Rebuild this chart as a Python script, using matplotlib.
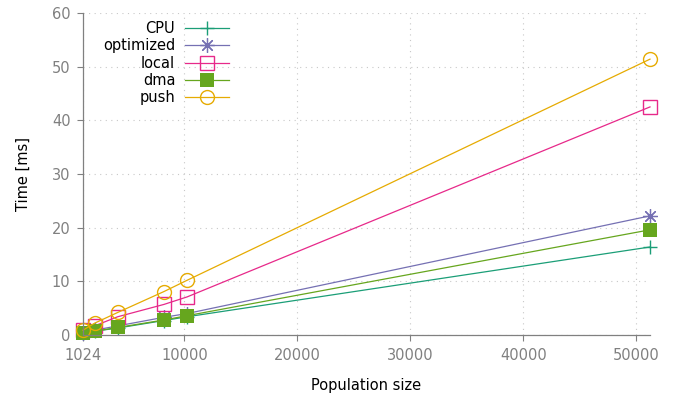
import numpy as np
import matplotlib.pyplot as plt

# data
sizes = [1024, 2048, 4096, 8192, 10240, 51200]
cpu = [0.3, 0.7, 1.3, 2.7, 3.4, 16.4]
optimized = [0.4, 0.9, 1.7, 3.3, 4.0, 22.2]
local = [1.0, 1.7, 3.4, 5.7, 7.1, 42.5]
dma = [0.4, 0.7, 1.4, 2.8, 3.6, 19.6]
push = [0.9, 2.2, 4.2, 8.1, 10.2, 51.4]

xticks = [1024, 10000, 20000, 30000, 40000, 50000]
yticks = [0, 10, 20, 30, 40, 50, 60]

plt.rcParams.update({
    "font.family": ["DejaVu Sans"],
    "font.size": 10.5,
})

gray = "#808080"
fig = plt.figure(figsize=(6.78, 3.94), dpi=100)
ax = fig.add_axes([83 / 678, 1 - 335 / 394, (650 - 83) / 678, (335 - 13) / 394])

series = [
    ("CPU", cpu, "#1b9e77", dict(marker="+", ms=10.5, mew=1.0)),
    ("optimized", optimized, "#7570b3", dict(marker=(8, 2, 0), ms=10.5, mew=0.9)),
    ("local", local, "#e7298a", dict(marker="s", ms=9.5, mfc="none", mew=1.0)),
    ("dma", dma, "#66a61e", dict(marker="s", ms=9.5, mew=0)),
    ("push", push, "#e6ab02", dict(marker="o", ms=10, mfc="none", mew=1.0)),
]
for name, vals, col, mk in series:
    ax.plot(sizes, vals, color=col, lw=0.9, label=name, clip_on=False, **mk)

ax.set_xlim(1024, 51200)
ax.set_ylim(0, 60)
ax.set_xticks(xticks)
ax.set_yticks(yticks)
ax.set_xticklabels([str(t) for t in xticks])

ax.grid(True, linestyle=(0, (1, 4)), color="#c8c8c8", lw=0.8)
ax.set_axisbelow(True)
for s in ["top", "right"]:
    ax.spines[s].set_visible(False)
for s in ["left", "bottom"]:
    ax.spines[s].set_color(gray)
    ax.spines[s].set_linewidth(0.9)
ax.tick_params(colors=gray, length=4, width=0.8, labelcolor=gray, pad=5)

ax.set_xlabel("Population size", labelpad=11)
ax.set_ylabel("Time [ms]", labelpad=15)

leg = ax.legend(loc="upper left", bbox_to_anchor=(103 / 678, 1 - 21 / 394),
                bbox_transform=fig.transFigure, frameon=False, markerfirst=False,
                handlelength=3.0, handletextpad=0.7, labelspacing=0.16,
                borderpad=0, borderaxespad=0)

fig.savefig("out.png", dpi=100)
